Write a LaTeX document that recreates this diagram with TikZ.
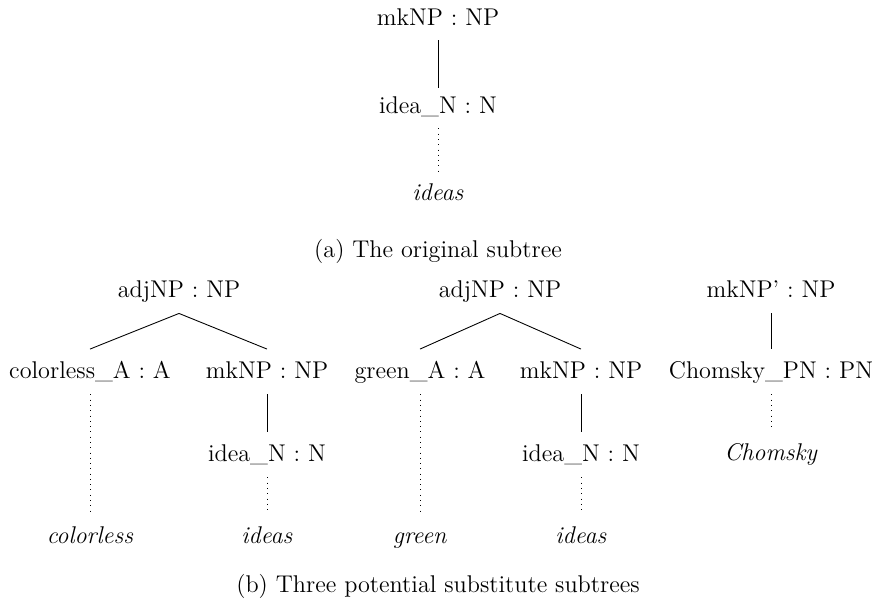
\documentclass[tikz,border=0pt]{standalone}
\begin{document}
\begin{tikzpicture}[x=0.4545pt,y=-0.4545pt,
  % labels sit on their baseline; the fixed box gives the gap to the edges
  lbl/.style={anchor=base,inner xsep=0pt,inner ysep=7.27pt,
    text height=5.68pt,text depth=0pt,font=\fontsize{11}{13}\selectfont},
  toplbl/.style={lbl,inner ysep=6.82pt,text height=4.32pt},
  caption/.style={anchor=base,inner sep=0pt,font=\fontsize{11}{13}\selectfont},
  edge/.style={line width=0.4pt},
  lex/.style={line width=0.4pt,dotted}]
\useasboundingbox (0,0) rectangle (876,603);
% (a) the original subtree
\node[toplbl] (a1) at (438,25) {mkNP : NP};
\node[toplbl] (a2) at (438,113) {idea\_N : N};
\node[toplbl] (a3) at (438,200) {\textit{ideas}};
\draw[edge] (a1.south) -- (a2.north);
\draw[lex] (a2.south) -- (a3.north);
\node[caption] (capa) at (438,257) {(a) The original subtree};
% (b) left tree
\node[lbl] (l1) at (179,297) {adjNP : NP};
\node[lbl] (l2) at (90,378) {colorless\_A : A};
\node[lbl] (l3) at (267,378) {mkNP : NP};
\node[lbl] (l4) at (267,461) {idea\_N : N};
\node[lbl] (l5) at (90,543) {\textit{colorless}};
\node[lbl] (l6) at (267,543) {\textit{ideas}};
\draw[edge] (l1.south) -- (l2.north);
\draw[edge] (l1.south) -- (l3.north);
\draw[lex] (l2.south) -- (l5.north);
\draw[edge] (l3.south) -- (l4.north);
\draw[lex] (l4.south) -- (l6.north);
% (b) middle tree
\node[lbl] (m1) at (500,297) {adjNP : NP};
\node[lbl] (m2) at (420,378) {green\_A : A};
\node[lbl] (m3) at (581,378) {mkNP : NP};
\node[lbl] (m4) at (581,461) {idea\_N : N};
\node[lbl] (m5) at (420,543) {\textit{green}};
\node[lbl] (m6) at (581,543) {\textit{ideas}};
\draw[edge] (m1.south) -- (m2.north);
\draw[edge] (m1.south) -- (m3.north);
\draw[lex] (m2.south) -- (m5.north);
\draw[edge] (m3.south) -- (m4.north);
\draw[lex] (m4.south) -- (m6.north);
% (b) right tree
\node[lbl] (r1) at (771,297) {mkNP' : NP};
\node[lbl] (r2) at (771,378) {Chomsky\_PN : PN};
\node[lbl] (r3) at (771,460) {\textit{Chomsky}};
\draw[edge] (r1.south) -- (r2.north);
\draw[lex] (r2.south) -- (r3.north);
\node[caption] (capb) at (438,592) {(b) Three potential substitute subtrees};
\end{tikzpicture}
\end{document}
